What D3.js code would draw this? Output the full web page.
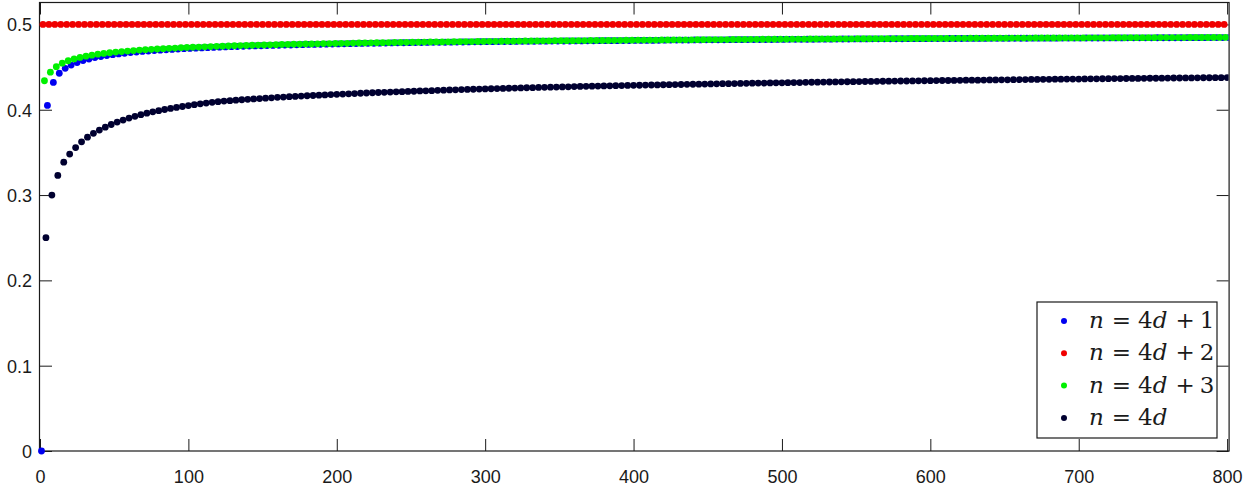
<!DOCTYPE html>
<html>
<head>
<meta charset="utf-8">
<script src="https://cdn.jsdelivr.net/npm/d3@7"></script>
<style>
  html, body { margin: 0; padding: 0; background: #fff; }
  svg { display: block; }
</style>
</head>
<body>
<svg id="chart" width="1244" height="488"></svg>
<script>
// ---------------- data ----------------
// x = n ; series sampled at every 4th n
const seriesStarts = [1, 2, 3, 4];      // first n of each residue class
const nStep = 4;

// n = 4d+1  (n = 1, 5, ..., 801)
const blueVals = [
  0, 0.405, 0.432, 0.4428, 0.4486,
  0.4523, 0.4553, 0.4576, 0.4595, 0.4611, 0.4624, 0.4635, 0.4645, 0.4654, 0.4662,
  0.4670, 0.4677, 0.4683, 0.4688, 0.4693, 0.4698, 0.4703, 0.4707, 0.4711, 0.4716,
  0.4719, 0.4722, 0.4725, 0.4727, 0.4731, 0.4733, 0.4736, 0.4739, 0.4741, 0.4744,
  0.4746, 0.4748, 0.4750, 0.4752, 0.4754, 0.4756, 0.4758, 0.4759, 0.4761, 0.4763,
  0.4765, 0.4766, 0.4767, 0.4769, 0.4770,
  0.4772, 0.4773, 0.4774, 0.4776, 0.4777, 0.4778, 0.4779, 0.4780, 0.4781, 0.4783,
  0.4784, 0.4785, 0.4786, 0.4787, 0.4788, 0.4789, 0.4790, 0.4790, 0.4791, 0.4792,
  0.4793, 0.4794, 0.4795, 0.4796, 0.4797,
  0.4798, 0.4798, 0.4799, 0.4800, 0.4800, 0.4801, 0.4802, 0.4802, 0.4803, 0.4804,
  0.4804, 0.4805, 0.4805, 0.4806, 0.4806, 0.4807, 0.4807, 0.4808, 0.4808, 0.4809,
  0.4809, 0.4810, 0.4810, 0.4811, 0.4811, 0.4812, 0.4812, 0.4813, 0.4813, 0.4814,
  0.4815, 0.4816, 0.4816, 0.4817, 0.4817, 0.4818, 0.4818, 0.4819, 0.4819, 0.4820,
  0.4820, 0.4821, 0.4821, 0.4821, 0.4822, 0.4822, 0.4823, 0.4823, 0.4823, 0.4824,
  0.4824, 0.4825, 0.4825, 0.4825, 0.4826, 0.4826, 0.4827, 0.4827, 0.4827, 0.4828,
  0.4829, 0.4829, 0.4830, 0.4830, 0.4830, 0.4831, 0.4831, 0.4831, 0.4832, 0.4832,
  0.4832, 0.4833, 0.4833, 0.4833, 0.4833, 0.4834, 0.4834, 0.4834, 0.4835, 0.4835,
  0.4835, 0.4836, 0.4836, 0.4836, 0.4836, 0.4837, 0.4837, 0.4837, 0.4838, 0.4838,
  0.4838, 0.4838, 0.4839, 0.4839, 0.4839, 0.4839, 0.4839, 0.4840, 0.4840, 0.4840,
  0.4840, 0.4841, 0.4841, 0.4841, 0.4841, 0.4842, 0.4842, 0.4842, 0.4843, 0.4843,
  0.4843, 0.4843, 0.4843, 0.4844, 0.4844, 0.4844, 0.4844, 0.4844, 0.4845, 0.4845,
  0.4845, 0.4845, 0.4846, 0.4846, 0.4846, 0.4846
];

// n = 4d+2  (n = 2, 6, ..., 798)
const redVals = [
  0.5,0.5,0.5,0.5,0.5,0.5,0.5,0.5,0.5,0.5,0.5,0.5,0.5,0.5,0.5,0.5,0.5,0.5,0.5,0.5,
  0.5,0.5,0.5,0.5,0.5,0.5,0.5,0.5,0.5,0.5,0.5,0.5,0.5,0.5,0.5,0.5,0.5,0.5,0.5,0.5,
  0.5,0.5,0.5,0.5,0.5,0.5,0.5,0.5,0.5,0.5,0.5,0.5,0.5,0.5,0.5,0.5,0.5,0.5,0.5,0.5,
  0.5,0.5,0.5,0.5,0.5,0.5,0.5,0.5,0.5,0.5,0.5,0.5,0.5,0.5,0.5,0.5,0.5,0.5,0.5,0.5,
  0.5,0.5,0.5,0.5,0.5,0.5,0.5,0.5,0.5,0.5,0.5,0.5,0.5,0.5,0.5,0.5,0.5,0.5,0.5,0.5,
  0.5,0.5,0.5,0.5,0.5,0.5,0.5,0.5,0.5,0.5,0.5,0.5,0.5,0.5,0.5,0.5,0.5,0.5,0.5,0.5,
  0.5,0.5,0.5,0.5,0.5,0.5,0.5,0.5,0.5,0.5,0.5,0.5,0.5,0.5,0.5,0.5,0.5,0.5,0.5,0.5,
  0.5,0.5,0.5,0.5,0.5,0.5,0.5,0.5,0.5,0.5,0.5,0.5,0.5,0.5,0.5,0.5,0.5,0.5,0.5,0.5,
  0.5,0.5,0.5,0.5,0.5,0.5,0.5,0.5,0.5,0.5,0.5,0.5,0.5,0.5,0.5,0.5,0.5,0.5,0.5,0.5,
  0.5,0.5,0.5,0.5,0.5,0.5,0.5,0.5,0.5,0.5,0.5,0.5,0.5,0.5,0.5,0.5,0.5,0.5,0.5,0.5
];

// n = 4d+3  (n = 3, 7, ..., 799)
const greenVals = [
  0.4340, 0.4440, 0.4505, 0.4546, 0.4574, 0.4596, 0.4613, 0.4628, 0.4640, 0.4651,
  0.4660, 0.4668, 0.4676, 0.4682, 0.4688, 0.4694, 0.4699, 0.4704, 0.4708, 0.4712,
  0.4716, 0.4720, 0.4723, 0.4727, 0.4730,
  0.4733, 0.4735, 0.4738, 0.4740, 0.4743, 0.4745, 0.4747, 0.4750, 0.4752, 0.4754,
  0.4756, 0.4758, 0.4759, 0.4761, 0.4763, 0.4765, 0.4766, 0.4768, 0.4769, 0.4771,
  0.4772, 0.4773, 0.4775, 0.4776, 0.4777, 0.4778, 0.4779, 0.4781, 0.4782, 0.4783,
  0.4784, 0.4785, 0.4786, 0.4787, 0.4788, 0.4789, 0.4790, 0.4791, 0.4792, 0.4793,
  0.4794, 0.4795, 0.4795, 0.4796, 0.4797, 0.4798, 0.4799, 0.4799, 0.4800, 0.4801,
  0.4802, 0.4802, 0.4803, 0.4804, 0.4804, 0.4805, 0.4806, 0.4806, 0.4807, 0.4808,
  0.4808, 0.4809, 0.4809, 0.4810, 0.4810, 0.4811, 0.4811, 0.4812, 0.4812, 0.4813,
  0.4813, 0.4814, 0.4814, 0.4815, 0.4815, 0.4816, 0.4816, 0.4817, 0.4817, 0.4818,
  0.4818, 0.4819, 0.4819, 0.4820, 0.4820, 0.4821, 0.4821, 0.4822, 0.4822, 0.4823,
  0.4823, 0.4824, 0.4824, 0.4824, 0.4825, 0.4825, 0.4826, 0.4826, 0.4826, 0.4827,
  0.4827, 0.4828, 0.4828, 0.4828, 0.4829, 0.4829, 0.4830, 0.4830, 0.4830, 0.4831,
  0.4831, 0.4831, 0.4832, 0.4832, 0.4832, 0.4833, 0.4833, 0.4833, 0.4834, 0.4834,
  0.4834, 0.4835, 0.4835, 0.4835, 0.4835, 0.4836, 0.4836, 0.4836, 0.4837, 0.4837,
  0.4837, 0.4838, 0.4838, 0.4838, 0.4838, 0.4839, 0.4839, 0.4839, 0.4840, 0.4840,
  0.4840, 0.4840, 0.4841, 0.4841, 0.4841, 0.4841, 0.4841, 0.4842, 0.4842, 0.4842,
  0.4842, 0.4843, 0.4843, 0.4843, 0.4843, 0.4844, 0.4844, 0.4844, 0.4845, 0.4845,
  0.4845, 0.4845, 0.4845, 0.4846, 0.4846, 0.4846, 0.4846, 0.4846, 0.4847, 0.4847,
  0.4847, 0.4847, 0.4848, 0.4848, 0.4848
];

// n = 4d  (n = 4, 8, ..., 800)
const navyVals = [
  0.250, 0.300, 0.323, 0.3385, 0.348, 0.3556,
  0.3624, 0.3678, 0.3723, 0.3762, 0.3796, 0.3827, 0.3855, 0.3879, 0.3902, 0.3923, 0.3942,
  0.3960,
  0.3975, 0.3989, 0.4003, 0.4015, 0.4027, 0.4038, 0.4049, 0.4059, 0.4069, 0.4078, 0.4087,
  0.4095,
  0.4101, 0.4106, 0.4112, 0.4117, 0.4122, 0.4127, 0.4131, 0.4136, 0.4140, 0.4145,
  0.4149, 0.4153, 0.4156, 0.4160, 0.4164, 0.4167, 0.4171, 0.4174, 0.4178, 0.4181,
  0.4184, 0.4187, 0.4190, 0.4193, 0.4196, 0.4199, 0.4202, 0.4204, 0.4207, 0.4210,
  0.4212, 0.4215, 0.4217, 0.4220, 0.4222, 0.4224, 0.4227, 0.4229, 0.4232, 0.4234,
  0.4236, 0.4238, 0.4240, 0.4242, 0.4244, 0.4246, 0.4248, 0.4250, 0.4252, 0.4254,
  0.4256, 0.4258, 0.4259, 0.4261, 0.4263, 0.4265, 0.4266, 0.4268, 0.4269, 0.4271,
  0.4273, 0.4274, 0.4276, 0.4277, 0.4279, 0.4280, 0.4282, 0.4283, 0.4285, 0.4286,
  0.4287, 0.4289, 0.4290, 0.4291, 0.4293, 0.4294, 0.4295, 0.4296, 0.4298, 0.4299,
  0.4300, 0.4301, 0.4303, 0.4304, 0.4305, 0.4306, 0.4307, 0.4308, 0.4310, 0.4311,
  0.4312, 0.4313, 0.4314, 0.4315, 0.4316, 0.4317, 0.4318, 0.4319, 0.4321, 0.4322,
  0.4323, 0.4324, 0.4325, 0.4326, 0.4327, 0.4328, 0.4329, 0.4330, 0.4331, 0.4332,
  0.4333, 0.4334, 0.4335, 0.4336, 0.4337, 0.4337, 0.4338, 0.4339, 0.4340, 0.4341,
  0.4342, 0.4343, 0.4343, 0.4344, 0.4345, 0.4346, 0.4347, 0.4347, 0.4348, 0.4349,
  0.4350, 0.4351, 0.4351, 0.4352, 0.4353, 0.4354, 0.4355, 0.4355, 0.4356, 0.4357,
  0.4358, 0.4358, 0.4359, 0.4360, 0.4360, 0.4361, 0.4362, 0.4362, 0.4363, 0.4364,
  0.4365, 0.4365, 0.4366, 0.4367, 0.4367, 0.4368, 0.4369, 0.4369, 0.4370, 0.4371,
  0.4372, 0.4372, 0.4373, 0.4373, 0.4374, 0.4375, 0.4375, 0.4376, 0.4376, 0.4377
];

const seriesNames = ["4d+1", "4d+2", "4d+3", "4d"];
const seriesColors = ["#0000f0", "#f00000", "#00f000", "#000030"];
const xTicks = [0, 100, 200, 300, 400, 500, 600, 700, 800];
const yTicks = [0, 0.1, 0.2, 0.3, 0.4, 0.5];

// ---------------- drawing ----------------
(function draw() {
  const svg = d3.select("#chart");
  const pLeft = 40, pRight = 1228.6, pTop = 2.5, pBottom = 451;

  const x = d3.scaleLinear().domain([0, 801]).range([pLeft, pRight]);
  const y = d3.scaleLinear().domain([0, 0.5257]).range([pBottom, pTop]);

  const allVals = [blueVals, redVals, greenVals, navyVals];
  const series = allVals.map((vals, s) => ({
    name: seriesNames[s],
    color: seriesColors[s],
    points: vals.map((v, i) => ({ n: seriesStarts[s] + nStep * i, v }))
  }));

  const ink = "#1a1a1a";
  const fontAxis = "'Liberation Sans', Arial, sans-serif";

  svg.append("defs").append("clipPath").attr("id", "clipR")
    .append("rect").attr("x", 0).attr("y", 0).attr("width", pRight).attr("height", 488);

  const gx = svg.append("g").attr("transform", `translate(0,${pBottom})`)
    .call(d3.axisBottom(x).tickValues(xTicks).tickSizeInner(-12).tickSizeOuter(0).tickPadding(19)
      .tickFormat(d3.format("d")));
  const gxt = svg.append("g").attr("transform", `translate(0,${pTop})`)
    .call(d3.axisTop(x).tickValues(xTicks).tickSizeInner(-12).tickSizeOuter(0).tickFormat(""));
  const gy = svg.append("g").attr("transform", `translate(${pLeft},0)`)
    .call(d3.axisLeft(y).tickValues(yTicks).tickSizeInner(-12).tickSizeOuter(0).tickPadding(8)
      .tickFormat(d => d === 0 ? "0" : d3.format(".1f")(d)));
  const gyr = svg.append("g").attr("transform", `translate(${pRight},0)`)
    .call(d3.axisRight(y).tickValues(yTicks).tickSizeInner(-12).tickSizeOuter(0).tickFormat(""));

  [gx, gxt, gy, gyr].forEach(g => {
    g.select(".domain").remove();
    g.selectAll(".tick line").attr("stroke", ink).attr("stroke-width", 1);
    g.selectAll("text").attr("fill", ink).style("font-family", fontAxis).style("font-size", "18px");
  });
  gy.selectAll("text").attr("dy", "0.36em");

  svg.append("rect")
    .attr("x", pLeft - 0.5).attr("y", pTop).attr("width", pRight - pLeft + 1).attr("height", pBottom - pTop)
    .attr("fill", "none").attr("stroke", ink).attr("stroke-width", 1.2);

  const plot = svg.append("g").attr("clip-path", "url(#clipR)");
  series.forEach(s => {
    plot.append("g").selectAll("circle").data(s.points).join("circle")
      .attr("cx", d => x(d.n)).attr("cy", d => y(d.v)).attr("r", 3.4)
      .attr("fill", s.color);
  });

  const lg = svg.append("g");
  const lx = 1037, ly = 302, lw = 180, lh = 136;
  lg.append("rect").attr("x", lx).attr("y", ly).attr("width", lw).attr("height", lh)
    .attr("fill", "#fff").attr("stroke", ink).attr("stroke-width", 1.2);
  const rowY = i => ly + 19 + i * 32.3;
  const serif = "'DejaVu Serif', 'Liberation Serif', serif";
  series.forEach((s, i) => {
    lg.append("circle").attr("cx", lx + 27).attr("cy", rowY(i)).attr("r", 3).attr("fill", s.color);
    const t = lg.append("text").attr("x", lx + 52).attr("y", rowY(i) + 7).attr("fill", ink)
      .style("font-family", serif).style("font-size", "23px");
    // "n = 4d + k" with LaTeX-like spacing
    const parts = [["n", 0, true], ["=", 8, false], ["4", 7, false], ["d", 0, true]];
    const tail = s.name.split("+");
    if (tail.length > 1) { parts.push(["+", 8, false]); parts.push([tail[1], 5, false]); }
    parts.forEach(([txt, dx, it]) => {
      t.append("tspan").attr("dx", dx).text(txt)
        .style("font-style", it ? "italic" : "normal");
    });
  });
})();
</script>
</body>
</html>
